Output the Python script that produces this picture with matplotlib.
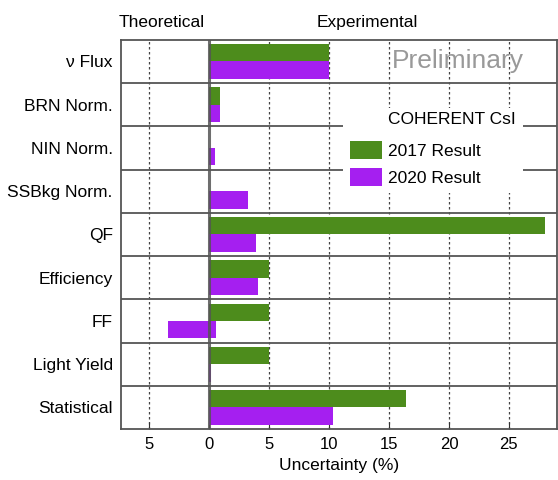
import matplotlib.pyplot as plt
import numpy as np
from matplotlib.patches import Rectangle

plt.rcParams['font.family'] = ['Liberation Sans', 'DejaVu Sans']

categories = ['\u03bd Flux', 'BRN Norm.', 'NIN Norm.', 'SSBkg Norm.', 'QF',
              'Efficiency', 'FF', 'Light Yield', 'Statistical']
res_2017 = [10.0, 0.9, 0.0, 0.0, 28.0, 5.0, 5.0, 5.0, 16.4]
# 2020 bars: start and end (FF one reaches into the "theoretical" side)
res_2020_lo = [0.0, 0.0, 0.0, 0.0, 0.0, 0.0, -3.4, 0.0, 0.0]
res_2020_hi = [10.0, 0.9, 0.5, 3.2, 3.9, 4.1, 0.6, 0.15, 10.3]
xticks = [-5, 0, 5, 10, 15, 20, 25]
xticklabels = ['5', '0', '5', '10', '15', '20', '25']

green = '#4d8c1c'
purple = '#a51ff0'

fig = plt.figure(figsize=(5.58, 4.80), dpi=100)
ax = fig.add_axes([0.217, 0.106, 0.781, 0.811])

n = len(categories)
y = np.arange(n)
h = 0.4
ax.barh(y - h / 2, res_2017, height=h, color=green, zorder=3, label='2017 Result')
ax.barh(y + h / 2, np.array(res_2020_hi) - np.array(res_2020_lo), left=res_2020_lo,
        height=h, color=purple, zorder=3, label='2020 Result')

ax.set_xlim(-7.35, 29.0)
ax.set_ylim(n - 0.5, -0.5)

# row separators and grid
for b in np.arange(n - 1) + 0.5:
    ax.axhline(b, color='#555555', lw=1.3, zorder=2)
for xv in [-5, 5, 10, 15, 20, 25]:
    ax.axvline(xv, color='#444444', lw=0.9, ls=(0, (2, 2)), zorder=1)
ax.axvline(0, color='#555555', lw=2.2, alpha=0.85, zorder=4)

ax.set_yticks(y)
ax.set_yticklabels(categories, fontsize=12.5)
ax.set_xticks(xticks)
ax.set_xticklabels(xticklabels, fontsize=12)
ax.tick_params(axis='y', length=0, pad=6)
ax.tick_params(axis='x', direction='in', length=5, color='#333333', pad=6)
ax.set_xlabel('Uncertainty (%)', fontsize=12.5, labelpad=4)
for s in ax.spines.values():
    s.set_color('#555555')
    s.set_linewidth(1.3)

ax.text(0.094, 1.025, 'Theoretical', transform=ax.transAxes, ha='center', va='bottom', fontsize=12.5)
ax.text(0.564, 1.025, 'Experimental', transform=ax.transAxes, ha='center', va='bottom', fontsize=12.5)
ax.text(20.7, 0.0, 'Preliminary', ha='center', va='center', fontsize=19, color='#999999', zorder=5)

# legend block: white background hiding the grid, title aligned with labels
ax.add_patch(Rectangle((0.509, 0.607), 0.413, 0.219, transform=ax.transAxes,
                       facecolor='white', edgecolor='none', zorder=5))
ax.text(0.613, 0.795, 'COHERENT CsI', transform=ax.transAxes, ha='left', va='center',
        fontsize=12.5, zorder=6)
leg = ax.legend(loc='upper left', bbox_to_anchor=(0.525, 0.740), frameon=False,
                fontsize=12.5, handlelength=1.85, handleheight=1.2, borderpad=0,
                labelspacing=0.55, handletextpad=0.35, borderaxespad=0)
leg.set_zorder(6)

fig.savefig('out.png', dpi=100)
